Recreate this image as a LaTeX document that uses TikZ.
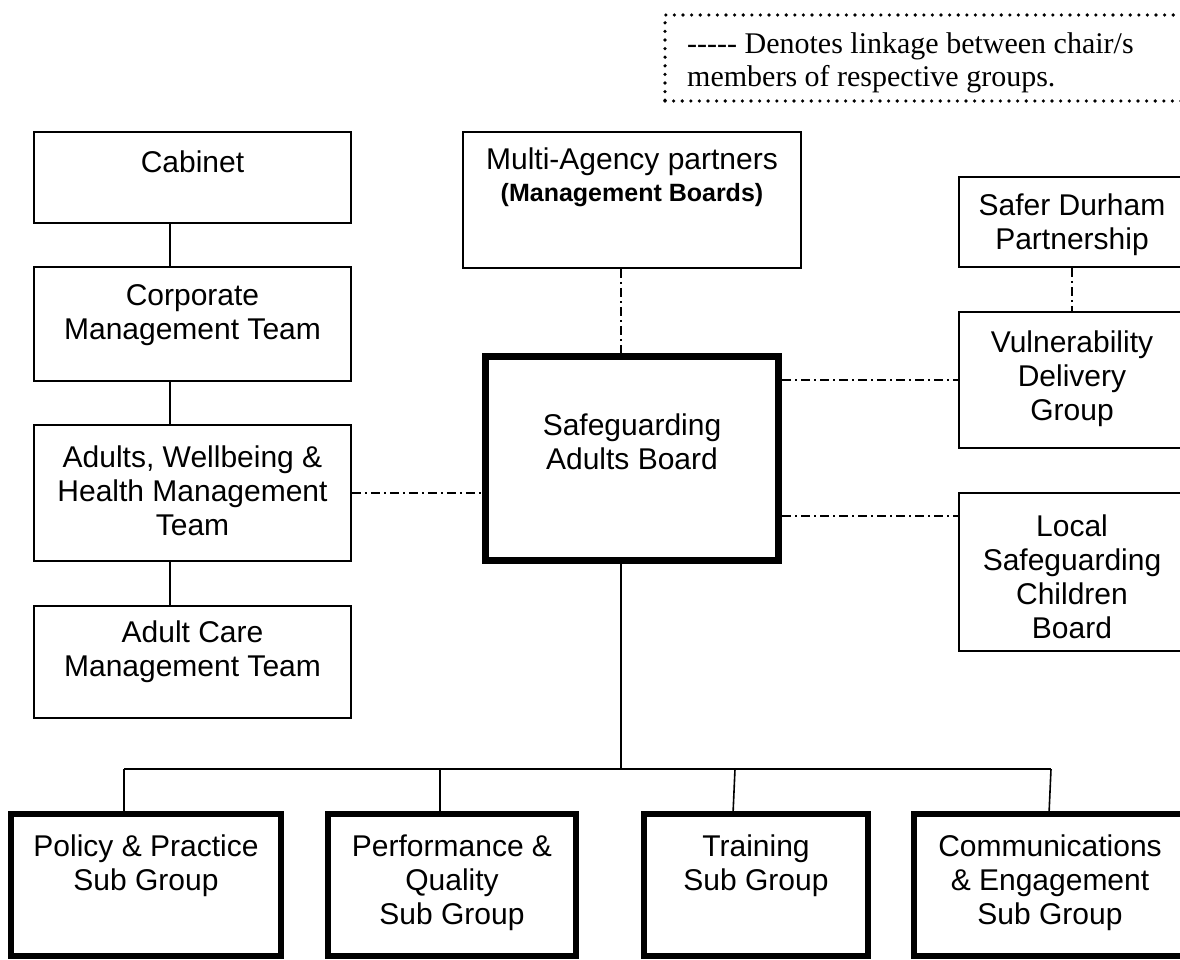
\documentclass[tikz,border=0pt]{standalone}
\usepackage{fontspec}
\setmainfont{Liberation Sans}
\newfontfamily\timesfont{Liberation Serif}
\begin{document}
\begin{tikzpicture}[x=1pt,y=-1pt,
  thinbox/.style={draw=black, line width=1.8pt, rectangle, inner sep=0pt},
  thickbox/.style={draw=black, line width=7pt, rectangle, inner sep=0pt},
  thickbot/.style={draw=black, line width=6pt, rectangle, inner sep=0pt},
  txt/.style={align=center, inner sep=0pt, font=\fontsize{30}{34}\selectfont},
  boldtxt/.style={align=center, inner sep=0pt, font=\fontsize{25}{30}\selectfont\bfseries},
  solidlink/.style={draw=black, line width=1.6pt},
  dashlink/.style={draw=black, line width=1.5pt, dash pattern=on 9pt off 4pt on 2pt off 4pt},
  legendbox/.style={draw=black, line width=3.6pt, line cap=round, dash pattern=on 0pt off 8.6pt}
]
\useasboundingbox (0,0) rectangle (1180,960);
\fill[white] (0,0) rectangle (1180,960);

% legend
\node[legendbox, rectangle, minimum width=525pt, minimum height=86pt, inner sep=0pt] (leg) at (927.5,58) {};
\node[align=left, inner sep=0pt, anchor=west, font=\timesfont\fontsize{30}{33}\selectfont] (legT) at (687,63) {----- Denotes linkage between chair/s\\members of respective groups.};

% left column
\node[thinbox, minimum width=317pt, minimum height=91pt] (cab) at (192.5,177.5) {};
\node[thinbox, minimum width=317pt, minimum height=114pt] (cmt) at (192.5,324) {};
\node[thinbox, minimum width=317pt, minimum height=136pt] (awh) at (192.5,493) {};
\node[thinbox, minimum width=317pt, minimum height=112pt] (acm) at (192.5,662) {};
\node[txt] (cabT) at (192.5,162) {Cabinet};
\node[txt] (cmtT) at (192.5,315) {Corporate\\Management Team};
\node[txt] (awhT) at (192.5,491) {Adults, Wellbeing \&\\Health Management\\Team};
\node[txt] (acmT) at (192.5,652) {Adult Care\\Management Team};

% centre
\node[thinbox, minimum width=338pt, minimum height=136pt] (map) at (632,200) {};
\node[txt] (mapT) at (632,162) {Multi-Agency partners};
\node[boldtxt] (mapB) at (632,195) {(Management Boards)};
\node[thickbox, minimum width=293pt, minimum height=204pt] (sab) at (632,458.5) {};
\node[txt] (sabT) at (632,442) {Safeguarding\\Adults Board};

% right column
\node[thinbox, minimum width=226pt, minimum height=90pt] (sdp) at (1072,222) {};
\node[thinbox, minimum width=226pt, minimum height=136pt] (vdg) at (1072,380) {};
\node[thinbox, minimum width=226pt, minimum height=158pt] (lscb) at (1072,572) {};
\node[txt] (sdpT) at (1072,225) {Safer Durham\\Partnership};
\node[txt] (vdgT) at (1072,379) {Vulnerability\\Delivery\\Group};
\node[txt] (lscbT) at (1072,577) {Local\\Safeguarding\\Children\\Board};

% bottom row
\node[thickbot, minimum width=270.5pt, minimum height=142pt] (pol) at (145.75,885) {};
\node[thickbot, minimum width=248pt, minimum height=142pt] (pqs) at (452,885) {};
\node[thickbot, minimum width=224pt, minimum height=142pt] (trn) at (756,885) {};
\node[thickbot, minimum width=272pt, minimum height=142pt] (com) at (1050,885) {};
\node[txt] (polT) at (146,866) {Policy \& Practice\\Sub Group};
\node[txt] (pqsT) at (452,883) {Performance \&\\Quality\\Sub Group};
\node[txt] (trnT) at (756,866) {Training\\Sub Group};
\node[txt] (comT) at (1050,883) {Communications\\\& Engagement\\Sub Group};

% helper coordinates
\coordinate (lc) at (170,0);
\coordinate (mx) at (621,0);
\coordinate (lo) at (0,516);
\coordinate (busL) at (124,769);
\coordinate (busM) at (621,769);
\coordinate (busR) at (1051,769);
\coordinate (j2) at (440,769);
\coordinate (j3) at (735,769);
\coordinate (e3) at (733,814);
\coordinate (e4) at (1049,814);

% solid links on the left
\draw[solidlink] (cab.south -| lc) -- (cmt.north -| lc);
\draw[solidlink] (cmt.south -| lc) -- (awh.north -| lc);
\draw[solidlink] (awh.south -| lc) -- (acm.north -| lc);

% dash-dot links
\draw[dashlink] (map.south -| mx) -- (sab.north -| mx);
\draw[dashlink] (awh.east) -- (awh.east -| sab.west);
\draw[dashlink] (vdg.west -| sab.east) -- (vdg.west);
\draw[dashlink] (sab.east |- lo) -- (lscb.west |- lo);
\draw[dashlink] (sdp.south) -- (vdg.north);

% tree to sub groups
\draw[solidlink] (sab.south -| mx) -- (busM);
\draw[solidlink] (busL) -- (busR);
\draw[solidlink] (busL) -- (busL |- pol.north);
\draw[solidlink] (j2) -- (j2 |- pqs.north);
\draw[solidlink] (j3) -- (e3);
\draw[solidlink] (busR) -- (e4);
\end{tikzpicture}
\end{document}
